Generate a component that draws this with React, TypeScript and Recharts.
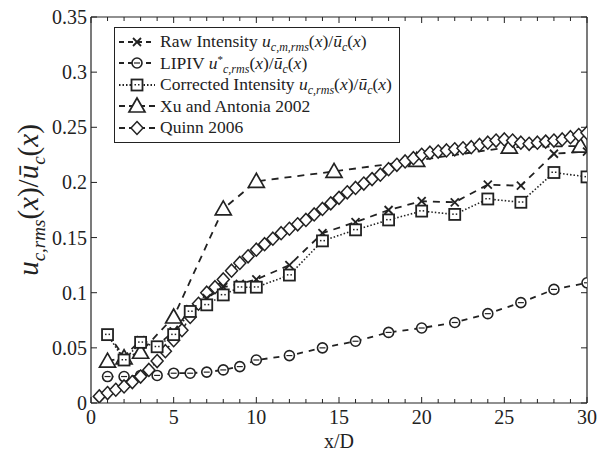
import { LineChart, Line, XAxis, YAxis, Legend } from "recharts";

const stationX = [1, 2, 3, 4, 5, 6, 7, 8, 9, 10, 12, 14, 16, 18, 20, 22, 24, 26, 28, 30];
const rawIntensity = [0.063, 0.042, 0.057, 0.052, 0.065, 0.085, 0.095, 0.105, 0.108, 0.112, 0.125, 0.154, 0.164, 0.175, 0.183, 0.182, 0.198, 0.197, 0.226, 0.228];
const lipiv = [0.024, 0.024, 0.025, 0.025, 0.027, 0.027, 0.028, 0.030, 0.033, 0.039, 0.043, 0.050, 0.056, 0.064, 0.068, 0.073, 0.081, 0.091, 0.103, 0.109];
const corrected = [0.062, 0.039, 0.055, 0.051, 0.062, 0.083, 0.089, 0.098, 0.105, 0.105, 0.116, 0.147, 0.157, 0.166, 0.174, 0.171, 0.185, 0.182, 0.209, 0.205];

const xuX = [1, 2, 3, 5, 8, 10, 14.7, 19.7, 25.3, 29.6];
const xuVals = [0.038, 0.041, 0.046, 0.078, 0.176, 0.201, 0.21, 0.22, 0.232, 0.233];

const quinnX = [
  0.5, 1, 1.5, 2, 2.5, 3, 3.5, 4, 4.5, 5, 5.5, 6, 6.5, 7, 7.5, 8, 8.5, 9, 9.5, 10,
  10.5, 11, 11.5, 12, 12.5, 13, 13.5, 14, 14.5, 15, 15.5, 16, 16.5, 17, 17.5, 18, 18.5, 19, 19.5, 20,
  20.5, 21, 21.5, 22, 22.5, 23, 23.5, 24, 24.5, 25, 25.5, 26, 26.5, 27, 27.5, 28, 28.5, 29, 29.5, 30,
];
const quinnVals = [
  0.006, 0.009, 0.012, 0.015, 0.019, 0.024, 0.03, 0.038, 0.047, 0.057, 0.066, 0.078, 0.09, 0.1, 0.105, 0.112, 0.12, 0.127, 0.133, 0.139,
  0.144, 0.149, 0.154, 0.158, 0.162, 0.166, 0.171, 0.176, 0.181, 0.186, 0.191, 0.195, 0.199, 0.203, 0.207, 0.212, 0.216, 0.219, 0.222, 0.225,
  0.227, 0.228, 0.229, 0.23, 0.231, 0.232, 0.234, 0.236, 0.238, 0.239, 0.238, 0.236, 0.235, 0.236, 0.237, 0.238, 0.239, 0.241, 0.243, 0.245,
];

const xTicks = [0, 1, 2, 3, 4, 5, 6, 7, 8, 9, 10, 11, 12, 13, 14, 15, 16, 17, 18, 19, 20, 21, 22, 23, 24, 25, 26, 27, 28, 29, 30];
const yTicks = [0, 0.05, 0.1, 0.15, 0.2, 0.25, 0.3, 0.35];

const INK = "#222";
const FONT = "'Liberation Serif', 'DejaVu Serif', serif";

const zip = (xs: number[], ys: number[]) => xs.map((x, i) => ({ x, y: ys[i] }));

const markX = (cx: number, cy: number, k?: any) => (
  <g key={k} stroke={INK} strokeWidth={1.8}>
    <line x1={cx - 4} y1={cy - 4} x2={cx + 4} y2={cy + 4} />
    <line x1={cx - 4} y1={cy + 4} x2={cx + 4} y2={cy - 4} />
  </g>
);
const markCircle = (cx: number, cy: number, k?: any) => (
  <g key={k}>
    <circle cx={cx} cy={cy} r={5} fill="white" stroke={INK} strokeWidth={1.6} />
    <line x1={cx - 3} x2={cx + 3} y1={cy} y2={cy} stroke={INK} strokeWidth={1.2} />
  </g>
);
const markSquare = (cx: number, cy: number, k?: any) => (
  <g key={k}>
    <rect x={cx - 5.5} y={cy - 5.5} width={11} height={11} fill="white" stroke={INK} strokeWidth={1.8} />
    <rect x={cx - 2.5} y={cy - 1} width={1.5} height={1.5} fill={INK} />
    <rect x={cx + 1} y={cy - 1} width={1.5} height={1.5} fill={INK} />
  </g>
);
const markTri = (cx: number, cy: number, k?: any) => (
  <polygon key={k} points={`${cx},${cy - 8} ${cx - 8},${cy + 6} ${cx + 8},${cy + 6}`} fill="white" stroke={INK} strokeWidth={1.7} />
);
const markDiamond = (cx: number, cy: number, k?: any) => (
  <polygon key={k} points={`${cx},${cy - 6.5} ${cx + 6},${cy} ${cx},${cy + 6.5} ${cx - 6},${cy}`} fill="white" stroke={INK} strokeWidth={1.5} />
);

const dotOf = (fn: any) => (p: any) => fn(p.cx, p.cy, p.index);

const XTickBottom = (p: any) => {
  const v = p.payload.value;
  const major = v % 5 === 0;
  return (
    <g>
      <line x1={p.x} x2={p.x} y1={p.y} y2={p.y - (major ? 6 : 4)} stroke={INK} strokeWidth={1} />
      {major && (
        <text x={p.x} y={p.y + 21} textAnchor="middle" fontFamily={FONT} fontSize={20} fill={INK}>
          {v}
        </text>
      )}
    </g>
  );
};
const XTickTop = (p: any) => {
  const major = p.payload.value % 5 === 0;
  return <line x1={p.x} x2={p.x} y1={p.y} y2={p.y + (major ? 6 : 4)} stroke={INK} strokeWidth={1} />;
};
const YTickLeft = (p: any) => (
  <g>
    <line x1={p.x} x2={p.x + 6} y1={p.y} y2={p.y} stroke={INK} strokeWidth={1} />
    <text x={p.x - 4} y={p.y + 7} textAnchor="end" fontFamily={FONT} fontSize={20} fill={INK}>
      {String(p.payload.value)}
    </text>
  </g>
);
const YTickRight = (p: any) => <line x1={p.x} x2={p.x - 6} y1={p.y} y2={p.y} stroke={INK} strokeWidth={1} />;

const YLabel = (props: any) => {
  const vb = props.viewBox;
  const cx = vb.x + 38;
  const cy = vb.y + vb.height / 2 - 10;
  return (
    <text transform={`translate(${cx},${cy}) rotate(-90)`} textAnchor="middle" fontFamily={FONT} fontSize={29} fill={INK}>
      <tspan fontStyle="italic">u</tspan>
      <tspan fontStyle="italic" fontSize={19} dy={7}>c,rms</tspan>
      <tspan dy={-7}>(</tspan>
      <tspan fontStyle="italic">x</tspan>
      <tspan>)/</tspan>
      <tspan fontStyle="italic">ū</tspan>
      <tspan fontStyle="italic" fontSize={19} dy={7}>c</tspan>
      <tspan dy={-7}>(</tspan>
      <tspan fontStyle="italic">x</tspan>
      <tspan>)</tspan>
    </text>
  );
};

const XLabel = (props: any) => {
  const vb = props.viewBox;
  return (
    <text x={vb.x + vb.width / 2} y={vb.y + 45} textAnchor="middle" fontFamily={FONT} fontSize={20} fill={INK}>
      x/D
    </text>
  );
};

const I = ({ children }: any) => <span style={{ fontStyle: "italic" }}>{children}</span>;
const Sub = ({ children }: any) => (
  <span style={{ fontStyle: "italic", fontSize: 12, lineHeight: 0, position: "relative", top: 4 }}>{children}</span>
);
const Sup = ({ children }: any) => (
  <span style={{ fontSize: 11, lineHeight: 0, position: "relative", top: -6 }}>{children}</span>
);

const legendRows = [
  {
    dash: "5 4",
    mark: markX,
    text: (
      <>
        Raw Intensity <I>u</I><Sub>c,m,rms</Sub>(<I>x</I>)/<I>ū</I><Sub>c</Sub>(<I>x</I>)
      </>
    ),
  },
  {
    dash: "5 4",
    mark: markCircle,
    text: (
      <>
        LIPIV <I>u</I><Sup>*</Sup><Sub>c,rms</Sub>(<I>x</I>)/<I>ū</I><Sub>c</Sub>(<I>x</I>)
      </>
    ),
  },
  {
    dash: "1.5 2",
    mark: markSquare,
    text: (
      <>
        Corrected Intensity <I>u</I><Sub>c,rms</Sub>(<I>x</I>)/<I>ū</I><Sub>c</Sub>(<I>x</I>)
      </>
    ),
  },
  { dash: "6 4", mark: markTri, text: <>Xu and Antonia 2002</> },
  { dash: "6 4", mark: markDiamond, text: <>Quinn 2006</> },
];

const LegendBox = () => (
  <div
    style={{
      border: `1.5px solid ${INK}`,
      background: "white",
      width: 286,
      padding: "3px 0 3px 2px",
      fontFamily: FONT,
      fontSize: 17.5,
      color: INK,
      lineHeight: "21.5px",
      whiteSpace: "nowrap",
      overflow: "hidden",
      boxSizing: "border-box",
    }}
  >
    {legendRows.map((r, i) => (
      <div key={i} style={{ display: "flex", alignItems: "center", height: 21.5 }}>
        <svg width={40} height={20} style={{ flex: "none", marginRight: 3 }}>
          <line x1={2} x2={38} y1={10} y2={10} stroke={INK} strokeWidth={2} strokeDasharray={r.dash} />
          {r.mark(20, 10)}
        </svg>
        <span>{r.text}</span>
      </div>
    ))}
  </div>
);

export default function App() {
  return (
    <div style={{ position: "absolute", left: 0, top: 0, background: "white" }}>
      <LineChart width={605} height={459} margin={{ top: 0, right: 0, bottom: 0, left: 0 }}>
        <XAxis
          dataKey="x"
          type="number"
          domain={[0, 30]}
          ticks={xTicks}
          interval={0}
          height={56}
          tickSize={0}
          tickMargin={0}
          tickLine={false}
          tick={XTickBottom}
          axisLine={{ stroke: INK, strokeWidth: 1.2 }}
          allowDataOverflow
          label={<XLabel />}
        />
        <XAxis
          xAxisId="top"
          orientation="top"
          dataKey="x"
          type="number"
          domain={[0, 30]}
          ticks={xTicks}
          interval={0}
          height={17}
          tickSize={0}
          tickMargin={0}
          tickLine={false}
          tick={XTickTop}
          axisLine={{ stroke: INK, strokeWidth: 1.2 }}
          allowDataOverflow
        />
        <YAxis
          type="number"
          domain={[0, 0.35]}
          ticks={yTicks}
          interval={0}
          width={91}
          tickSize={0}
          tickMargin={0}
          tickLine={false}
          tick={YTickLeft}
          axisLine={{ stroke: INK, strokeWidth: 1.2 }}
          allowDataOverflow
          label={<YLabel />}
        />
        <YAxis
          yAxisId="right"
          orientation="right"
          type="number"
          domain={[0, 0.35]}
          ticks={yTicks}
          interval={0}
          width={18}
          tickSize={0}
          tickMargin={0}
          tickLine={false}
          tick={YTickRight}
          axisLine={{ stroke: INK, strokeWidth: 1.2 }}
          allowDataOverflow
        />
        <Legend
          verticalAlign="middle"
          align="center"
          layout="vertical"
          wrapperStyle={{ left: 114, top: 27, width: 286 }}
          content={() => <LegendBox />}
        />
        <Line
          data={zip(xuX, xuVals)}
          dataKey="y"
          stroke={INK}
          strokeWidth={1.8}
          strokeDasharray="7 6"
          dot={dotOf(markTri)}
          isAnimationActive={false}
        />
        <Line
          data={zip(stationX, lipiv)}
          dataKey="y"
          stroke={INK}
          strokeWidth={1.8}
          strokeDasharray="6 6"
          dot={dotOf(markCircle)}
          isAnimationActive={false}
        />
        <Line
          data={zip(quinnX, quinnVals)}
          dataKey="y"
          stroke={INK}
          strokeWidth={1.5}
          strokeDasharray="4 3"
          dot={dotOf(markDiamond)}
          isAnimationActive={false}
        />
        <Line
          data={zip(stationX, rawIntensity)}
          dataKey="y"
          stroke={INK}
          strokeWidth={1.8}
          strokeDasharray="7 6"
          dot={dotOf(markX)}
          isAnimationActive={false}
        />
        <Line
          data={zip(stationX, corrected)}
          dataKey="y"
          stroke={INK}
          strokeWidth={1.6}
          strokeDasharray="1.5 2"
          dot={dotOf(markSquare)}
          isAnimationActive={false}
        />
      </LineChart>
    </div>
  );
}
